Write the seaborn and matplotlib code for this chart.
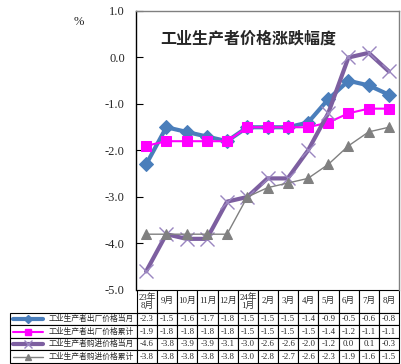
import matplotlib
matplotlib.use('Agg')
import matplotlib.pyplot as plt
from matplotlib.lines import Line2D
import seaborn as sns

months = ['23年\n8月', '9月', '10月', '11月', '12月', '24年\n1月', '2月', '3月',
          '4月', '5月', '6月', '7月', '8月']
series_names = ['工业生产者出厂价格当月', '工业生产者出厂价格累计',
                '工业生产者购进价格当月', '工业生产者购进价格累计']
ppi_month = [-2.3, -1.5, -1.6, -1.7, -1.8, -1.5, -1.5, -1.5, -1.4, -0.9, -0.5, -0.6, -0.8]
ppi_cum = [-1.9, -1.8, -1.8, -1.8, -1.8, -1.5, -1.5, -1.5, -1.5, -1.4, -1.2, -1.1, -1.1]
pur_month = [-4.6, -3.8, -3.9, -3.9, -3.1, -3.0, -2.6, -2.6, -2.0, -1.2, 0.0, 0.1, -0.3]
pur_cum = [-3.8, -3.8, -3.8, -3.8, -3.8, -3.0, -2.8, -2.7, -2.6, -2.3, -1.9, -1.6, -1.5]
yticks = [1.0, 0.0, -1.0, -2.0, -3.0, -4.0, -5.0]

sns.set_theme(style='white')
fam = ['Liberation Serif', 'Noto Sans CJK SC']
plt.rcParams['font.family'] = fam

W, H = 402, 364
fig = plt.figure(figsize=(W / 100, H / 100), dpi=100)
ax_l, ax_r, ax_t, ax_b = 136, 399, 11, 290
ax = fig.add_axes([ax_l / W, 1 - ax_b / H, (ax_r - ax_l) / W, (ax_b - ax_t) / H])

x = list(range(len(months)))
styles = [
    dict(color='#4A7EBB', linewidth=3, marker='D', markersize=7.5, markeredgecolor='#4A7EBB'),
    dict(color='#FF00FF', linewidth=1.5, marker='s', markersize=7, markeredgecolor='#FF00FF'),
    dict(color='#7D5FA0', linewidth=3, marker='x', markersize=10, markeredgewidth=1,
         markeredgecolor='#9A86C0'),
    dict(color='#808080', linewidth=1, marker='^', markersize=6.5, markeredgecolor='#808080'),
]
all_series = [ppi_month, ppi_cum, pur_month, pur_cum]
for vals, st in zip(all_series, styles):
    sns.lineplot(x=x, y=vals, ax=ax, **st)

ax.set_xlim(-0.5, len(months) - 0.5)
ax.set_ylim(-5, 1)
ax.set_yticks(yticks)
ax.set_yticklabels([f'{v:.1f}' for v in yticks], fontsize=9, family='Liberation Serif')
ax.set_xticks([])
ax.tick_params(axis='y', direction='in', length=5, width=0.8, color='black', pad=8, left=True)
ax.spines['left'].set_color('black')
ax.spines['left'].set_linewidth(1)
for s in ['top', 'right']:
    ax.spines[s].set_color('#808080')
    ax.spines[s].set_linewidth(1)
ax.spines['bottom'].set_visible(False)

ax.text(0.426, 0.9, '工业生产者价格涨跌幅度', transform=ax.transAxes, ha='center', va='center',
        fontsize=11.5, fontweight='bold', family=['Noto Sans CJK SC'])
fig.text(79 / W, 1 - 22 / H, '%', ha='center', va='center', fontsize=9, family='Liberation Serif')

# data table under the plot (row labels drawn separately)
cell_text = [[''] + [f'{v:.1f}' for v in vals] for vals in all_series]
tb_l, tb_t, tb_b = 10, 290, 363
axw, axh = ax_r - ax_l, ax_b - ax_t
col_w = [127] + [(ax_r - 137) / 13] * 13
tab = ax.table(cellText=cell_text, colLabels=[''] + months, colWidths=[c / W for c in col_w],
               cellLoc='center',
               bbox=[(tb_l - ax_l) / axw, -(tb_b - tb_t) / axh, (ax_r - tb_l) / axw, (tb_b - tb_t) / axh])
tab.auto_set_font_size(False)
hdr_scale = 1.8
for (r, c), cell in tab.get_celld().items():
    cell.set_linewidth(0.8)
    cell.set_edgecolor('black')
    txt = cell.get_text()
    txt.set_fontfamily(fam)
    txt.set_fontsize(6.3)
    if r == 0:
        cell.set_height(cell.get_height() * hdr_scale)
        txt.set_linespacing(1.0)
tab[0, 0].visible_edges = ''

# row labels with legend keys
hdr_h = 73 / (hdr_scale + 4) * hdr_scale
row_h = (73 - hdr_h) / 4
for i, (name, st) in enumerate(zip(series_names, styles)):
    yc = 1 - (290 + hdr_h + row_h * (i + 0.5)) / H
    fig.text(134 / W, yc, name, ha='right', va='center', fontsize=5.6,
             family=['Noto Sans CJK SC'])
    ln = Line2D([13 / W, 43 / W], [yc, yc], transform=fig.transFigure, color=st['color'],
                linewidth=st['linewidth'])
    mk = Line2D([28 / W], [yc], transform=fig.transFigure, linestyle='none', marker=st['marker'],
                markersize=st['markersize'] * 0.6, color=st['color'],
                markeredgecolor=st.get('markeredgecolor', st['color']),
                markeredgewidth=st.get('markeredgewidth', 1))
    fig.add_artist(ln)
    fig.add_artist(mk)

fig.savefig('out.png', dpi=100, facecolor='white')
